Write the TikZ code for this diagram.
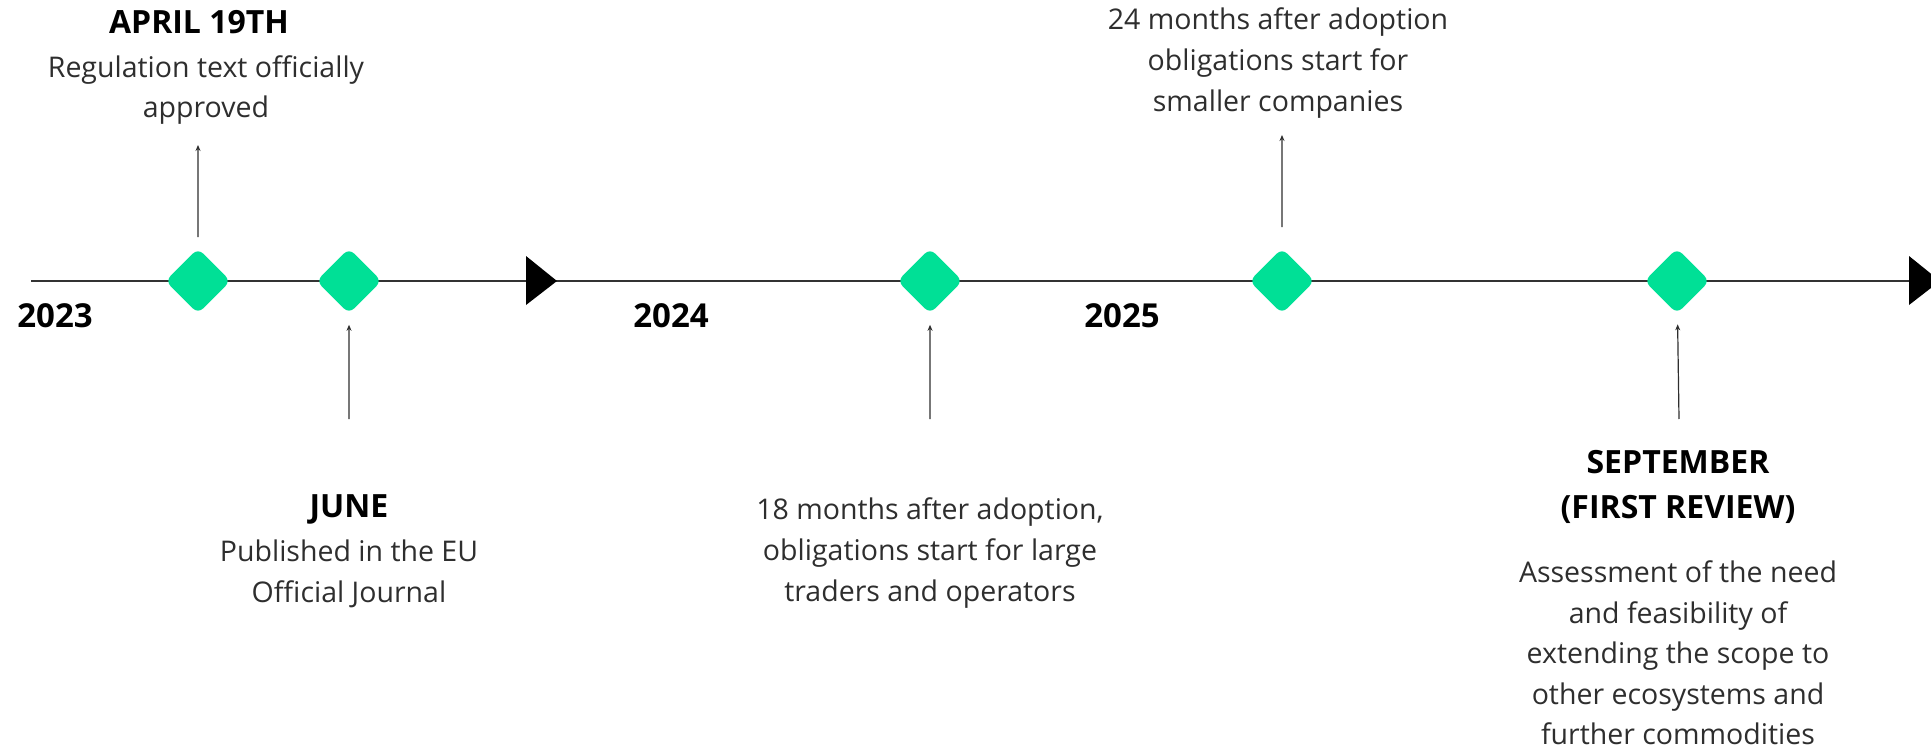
\documentclass[tikz,border=0pt]{standalone}
\usepackage{fontspec}
\setmainfont{Open Sans}
\usepackage{xcolor}
\usetikzlibrary{arrows.meta}

\definecolor{mint}{HTML}{00E096}
\definecolor{ink}{HTML}{2E2E2E}

\tikzset{
  milestone/.style={rectangle, fill=mint, rotate=45, minimum size=46pt, inner sep=0pt, rounded corners=7pt},
  yearlbl/.style={font=\fontsize{33}{36}\selectfont\bfseries},
  headlbl/.style={font=\fontsize{32}{45}\selectfont\bfseries, align=center},
  bodylbl/.style={font=\fontsize{28.5}{40.6}\selectfont, align=center, text=ink},
  tick/.style={-{Stealth[length=6pt,width=5pt]}, line width=1.2pt, draw=ink},
  axis/.style={line width=1.6pt, draw=black!80},
}

\begin{document}
\begin{tikzpicture}[x=1pt,y=-1pt]
\useasboundingbox (0,0) rectangle (1931,749);
\clip (0,0) rectangle (1931,749);

% time line
\coordinate (t0) at (31,281);
\coordinate (t1) at (1931,281);
\draw[axis] (t0) -- (t1);
\fill[black] (526,256) -- (557,281) -- (526,305) -- cycle;
\fill[black] (1909,256) -- (1940,281) -- (1909,305) -- cycle;

% milestones
\node[milestone] (m1) at (198,281) {};
\node[milestone] (m2) at (349,281) {};
\node[milestone] (m3) at (930,281) {};
\node[milestone] (m4) at (1282,281) {};
\node[milestone] (m5) at (1677,281) {};

% years
\node[yearlbl] (y23) at (55,316) {2023};
\node[yearlbl] (y24) at (671,316) {2024};
\node[yearlbl] (y25) at (1122,316) {2025};

% april
\node[headlbl] (hd1) at (199,22) {APRIL 19TH};
\node[bodylbl] (tx1) at (206,90) {Regulation text officially\\approved};
\coordinate (a1) at (198,145);
\draw[tick, shorten <=11pt] (m1) -- (a1);

% june
\node[headlbl] (hd2) at (349,509) {JUNE};
\node[bodylbl] (tx2) at (349,574) {Published in the EU\\Official Journal};
\coordinate (a2) at (349,419);
\draw[tick, shorten >=11pt] (a2) -- (m2);

% 18 months
\node[bodylbl] (tx3) at (930,553) {18 months after adoption,\\obligations start for large\\traders and operators};
\coordinate (a3) at (930,419);
\draw[tick, shorten >=11pt] (a3) -- (m3);

% 24 months
\node[bodylbl] (tx4) at (1278,63) {24 months after adoption\\obligations start for\\smaller companies};
\coordinate (a4) at (1282,135);
\draw[tick, shorten <=21pt] (m4) -- (a4);

% september
\node[headlbl] (hd5) at (1678,487) {SEPTEMBER\\(FIRST REVIEW)};
\node[bodylbl] (tx5) at (1678,653) {Assessment of the need\\and feasibility of\\extending the scope to\\other ecosystems and\\further commodities};
\coordinate (a5) at (1679,419);
\draw[tick, shorten >=11pt] (a5) -- (m5);
\end{tikzpicture}
\end{document}
